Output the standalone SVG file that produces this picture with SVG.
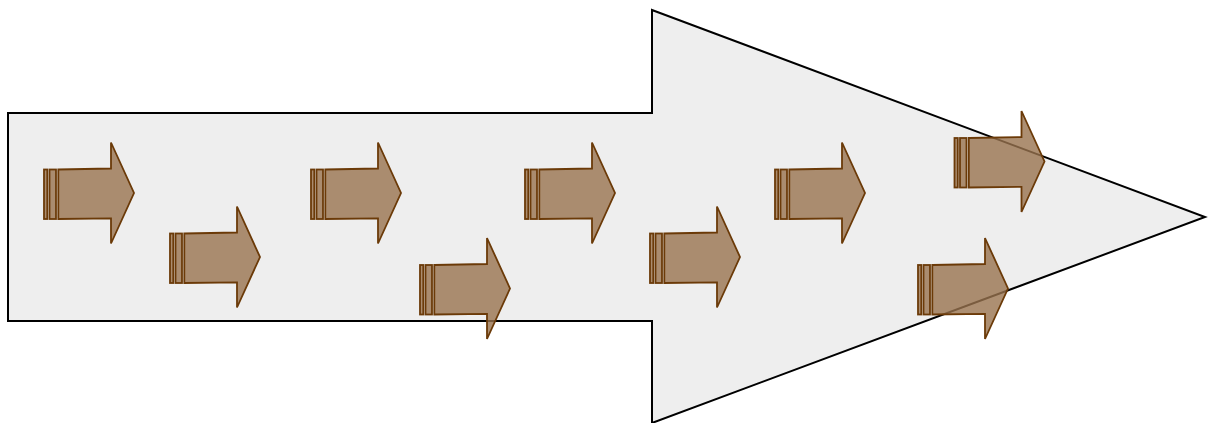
<svg xmlns="http://www.w3.org/2000/svg" xmlns:xlink="http://www.w3.org/1999/xlink" width="1210" height="423" viewBox="0 0 1210 423">
<style>
.big{fill:#eeeeee;stroke:#000000;stroke-width:2;stroke-linejoin:miter}
.sa{fill:#98734f;fill-opacity:0.8;stroke:#6b3a08;stroke-width:1.8;stroke-linejoin:miter}
</style>
<defs>
<g id="sarrow">
<rect class="sa" x="0" y="-23.5" width="3.3" height="49.5"/>
<rect class="sa" x="5.5" y="-23.5" width="6.5" height="49.5"/>
<polygon class="sa" points="14.3,-23.5 67,-24.5 67,-50.5 90,0 67,50.5 67,25.3 14.3,26"/>
</g>
</defs>
<g id="main-arrow">
<polygon class="big" points="8,113 652,113 652,10 1205,217 652,423 652,321 8,321"/>
</g>
<g id="a1"><use xlink:href="#sarrow" x="44" y="193"/></g>
<g id="a2"><use xlink:href="#sarrow" x="170" y="257"/></g>
<g id="a3"><use xlink:href="#sarrow" x="311" y="193"/></g>
<g id="a4"><use xlink:href="#sarrow" x="420" y="288.5"/></g>
<g id="a5"><use xlink:href="#sarrow" x="525" y="193"/></g>
<g id="a6"><use xlink:href="#sarrow" x="650" y="257"/></g>
<g id="a7"><use xlink:href="#sarrow" x="775" y="193"/></g>
<g id="a8"><use xlink:href="#sarrow" x="954.5" y="161.5"/></g>
<g id="a9"><use xlink:href="#sarrow" x="918" y="288.5"/></g>
<g id="connectors"/>
</svg>
